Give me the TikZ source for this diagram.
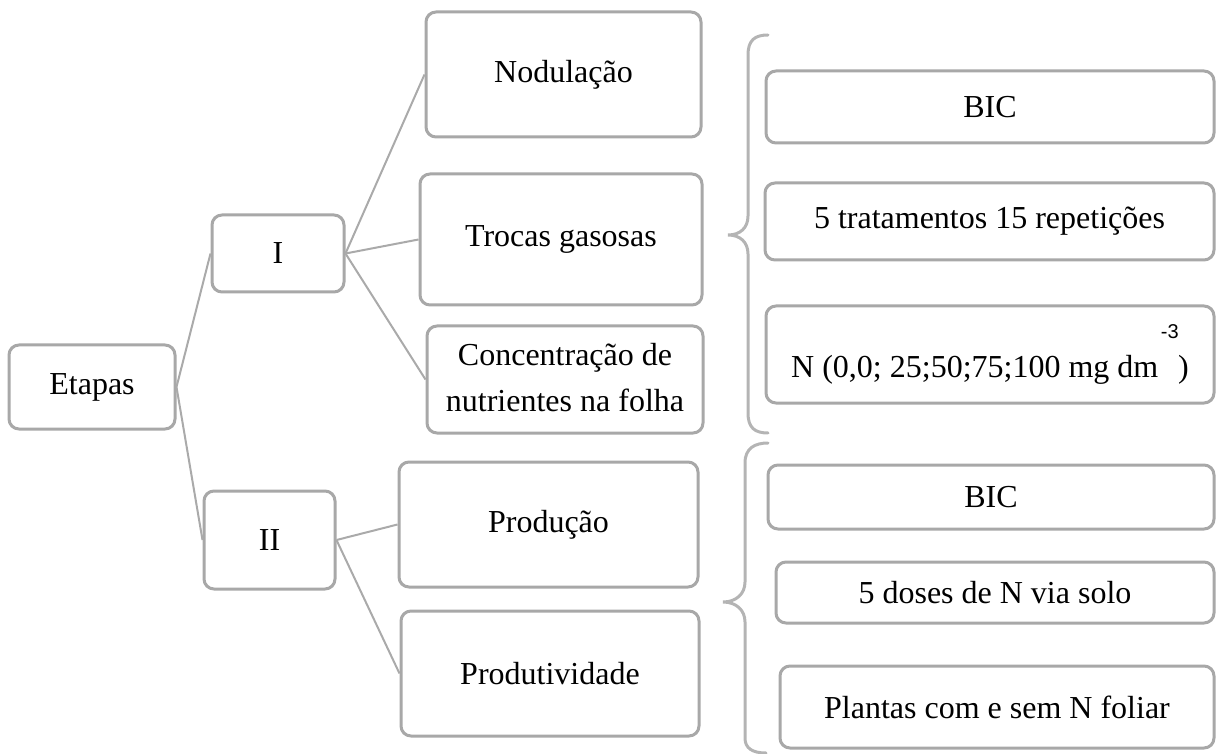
\documentclass[tikz,border=0pt]{standalone}
\usepackage{fontspec}
\setmainfont{Liberation Serif}
\newfontfamily\supfont{Liberation Sans}
\definecolor{boxgray}{RGB}{168,168,168}
\definecolor{linegray}{RGB}{170,170,170}
\definecolor{bracegray}{RGB}{180,180,180}
\begin{document}
\begin{tikzpicture}[x=0.5pt,y=-0.5pt,
  box/.style={draw=boxgray, line width=1.5pt, rounded corners=5pt, inner sep=0pt,
    align=center, font=\fontsize{16}{23}\selectfont, text=black},
  conn/.style={draw=linegray, line width=1pt},
  brace/.style={draw=bracegray, line width=1.5pt, line cap=round}]
\useasboundingbox (0,0) rectangle (1216,754);
% left tree
\node[box, minimum width=83pt, minimum height=42pt] (etapas) at (92,387) {Etapas};
\node[box, minimum width=66pt, minimum height=38.5pt] (i) at (278,253.5) {I};
\node[box, minimum width=65.5pt, minimum height=49pt] (ii) at (269.5,540) {II};
\node[box, minimum width=137.5pt, minimum height=62.5pt] (nod) at (563.5,74.5) {Nodulação};
\node[box, minimum width=141pt, minimum height=65.5pt] (troc) at (561,239.5) {Trocas gasosas};
\node[box, minimum width=138pt, minimum height=53.5pt] (conc) at (565,379.5) {\raisebox{2.5pt}{\begin{tabular}{@{}c@{}}Concentração de\\nutrientes na folha\end{tabular}}};
\node[box, minimum width=149.5pt, minimum height=62.5pt] (prod) at (548.5,524.5) {Produção};
\node[box, minimum width=149pt, minimum height=62.5pt] (produt) at (550,673.5) {Produtividade};
% right boxes
\node[box, minimum width=224pt, minimum height=36pt] (bic1) at (990,107) {BIC};
\node[box, minimum width=224.5pt, minimum height=38.5pt] (trat) at (989.5,221.5) {5 tratamentos 15 repetições};
\node[box, minimum width=224pt, minimum height=48.5pt] (ndose) at (990,354.5)
  {\raisebox{-7pt}{N (0,0; 25;50;75;100 mg dm\rlap{\hspace{0.08em}\raisebox{1.2em}{\supfont\fontsize{10}{12}\selectfont -3}}\hspace{0.62em})}};
\node[box, minimum width=223pt, minimum height=32pt] (bic2) at (991,497) {BIC};
\node[box, minimum width=219pt, minimum height=30.5pt] (doses) at (995,592.5) {5 doses de N via solo};
\node[box, minimum width=217pt, minimum height=41pt] (plantas) at (997,707) {Plantas com e sem N foliar};
% connectors
\draw[conn] (etapas.east) -- (i.west);
\draw[conn] (etapas.east) -- (ii.west);
\draw[conn] (i.east) -- (nod.west);
\draw[conn] (i.east) -- (troc.west);
\draw[conn] (i.east) -- (conc.west);
\draw[conn] (ii.east) -- (prod.west);
\draw[conn] (ii.east) -- (produt.west);
% braces
\draw[brace] (768,35) .. controls (755,35) and (748,40) .. (748,55) -- (748,216)
  .. controls (748,228) and (740,235) .. (728,235)
  .. controls (740,235) and (748,242) .. (748,254) -- (748,413)
  .. controls (748,428) and (755,433) .. (768,433);
\draw[brace] (768,443) .. controls (755,443) and (745,448) .. (745,463) -- (745,582)
  .. controls (745,594) and (736,602) .. (723,602)
  .. controls (736,602) and (745,610) .. (745,622) -- (745,738)
  .. controls (745,748) and (752,753) .. (766,753);
\end{tikzpicture}
\end{document}
